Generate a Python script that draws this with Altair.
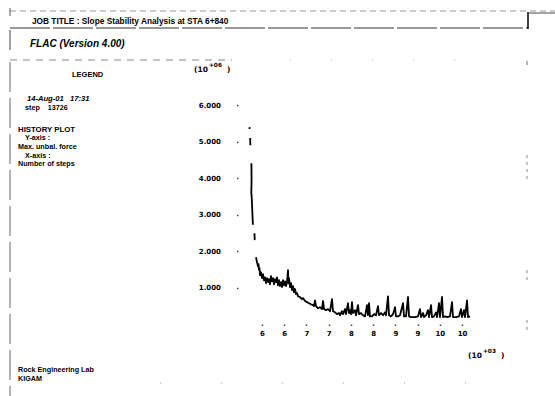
import altair as alt
import pandas as pd

# ---------------- data (x: steps in 10^3, y: max. unbalanced force in 10^6) ----------------
seg_a_x = [5.219, 5.220]
seg_a_y = [5.40, 5.35]
seg_b_x = [5.235, 5.237]
seg_b_y = [5.10, 4.90]
seg_c_x = [5.262, 5.265, 5.262, 5.258, 5.265, 5.275, 5.285, 5.295]
seg_c_y = [4.41, 4.00, 3.70, 3.60, 3.55, 3.30, 3.00, 2.72]
seg_d_x = [5.330, 5.336]
seg_d_y = [2.49, 2.30]
seg_e_x = [5.365, 5.388, 5.410, 5.421, 5.433, 5.444, 5.455, 5.478, 5.500, 5.523,
           5.545, 5.568, 5.590, 5.613, 5.635, 5.658, 5.680, 5.703, 5.725, 5.748,
           5.770, 5.793, 5.815, 5.838, 5.860, 5.883, 5.905, 5.928, 5.950, 5.973,
           5.995, 6.018, 6.040, 6.063, 6.085, 6.096, 6.108, 6.130, 6.153, 6.175,
           6.198, 6.220, 6.243, 6.265, 6.288, 6.310, 6.355, 6.400, 6.423, 6.468,
           6.513, 6.558, 6.603, 6.648, 6.670, 6.693, 6.715, 6.760, 6.805, 6.850,
           6.873, 6.895, 6.940, 6.985, 7.030, 7.075, 7.098, 7.143, 7.188, 7.233,
           7.255, 7.300, 7.323, 7.368, 7.390, 7.435, 7.458, 7.480, 7.503, 7.525,
           7.548, 7.593, 7.615, 7.660, 7.683, 7.728, 7.773, 7.818, 7.863, 7.885,
           7.908, 7.930, 7.975, 8.020, 8.065, 8.110, 8.133, 8.178, 8.223, 8.268,
           8.290, 8.335, 8.358, 8.403, 8.448, 8.493, 8.515, 8.560, 8.605, 8.673,
           8.695, 8.740, 8.785, 8.808, 8.853, 8.898, 8.943, 9.010, 9.055, 9.078,
           9.123, 9.145, 9.190, 9.235, 9.258, 9.303, 9.325, 9.370, 9.415, 9.438,
           9.483, 9.505, 9.550, 9.573, 9.618, 9.663, 9.730, 9.775, 9.798, 9.865,
           9.933, 9.978, 10.000, 10.045, 10.068, 10.113, 10.135, 10.180]
seg_e_y = [1.83, 1.69, 1.58, 1.64, 1.48, 1.53, 1.34, 1.42, 1.26, 1.37,
           1.20, 1.28, 1.12, 1.26, 1.15, 1.23, 1.09, 1.31, 1.17, 1.26,
           1.09, 1.23, 1.15, 1.28, 1.06, 1.20, 1.04, 1.15, 1.01, 1.20,
           1.06, 1.17, 1.04, 1.15, 1.48, 1.12, 1.26, 1.01, 1.12, 0.93,
           1.04, 0.87, 0.96, 0.82, 0.85, 0.76, 0.74, 0.68, 0.71, 0.63,
           0.60, 0.57, 0.54, 0.52, 0.49, 0.65, 0.49, 0.43, 0.46, 0.41,
           0.63, 0.41, 0.38, 0.41, 0.35, 0.68, 0.35, 0.32, 0.27, 0.30,
           0.24, 0.35, 0.27, 0.41, 0.27, 0.57, 0.30, 0.38, 0.27, 0.60,
           0.30, 0.38, 0.24, 0.52, 0.27, 0.30, 0.24, 0.21, 0.52, 0.24,
           0.57, 0.21, 0.21, 0.27, 0.24, 0.49, 0.24, 0.30, 0.24, 0.32,
           0.24, 0.76, 0.24, 0.21, 0.27, 0.46, 0.21, 0.21, 0.24, 0.57,
           0.21, 0.21, 0.74, 0.21, 0.19, 0.19, 0.19, 0.21, 0.41, 0.19,
           0.30, 0.19, 0.24, 0.38, 0.19, 0.52, 0.19, 0.21, 0.32, 0.19,
           0.57, 0.19, 0.74, 0.19, 0.21, 0.19, 0.21, 0.60, 0.19, 0.19,
           0.21, 0.41, 0.19, 0.38, 0.19, 0.65, 0.19, 0.21]

y_ticks = [1, 2, 3, 4, 5, 6]
x_ticks = [5.5, 6.0, 6.5, 7.0, 7.5, 8.0, 8.5, 9.0, 9.5, 10.0]

rows = []
for name, xs, ys in [("a", seg_a_x, seg_a_y), ("b", seg_b_x, seg_b_y),
                     ("c", seg_c_x, seg_c_y), ("d", seg_d_x, seg_d_y),
                     ("e", seg_e_x, seg_e_y)]:
    for x, y in zip(xs, ys):
        rows.append({"seg": name, "step": x, "force": y, "i": len(rows)})
df = pd.DataFrame(rows)

# ---------------- layout ----------------
W, H = 555, 396
L, T = 238, 83          # plot origin in page pixels
PW, PH = 251, 241       # plot size
FONT = "Liberation Sans"
AXFONT = "DejaVu Sans"
NB = "\u00a0"

one = alt.Data(values=[{}])


def txt(s, x, y, size=7, weight="bold", style="normal", align="left", font=FONT):
    return alt.Chart(one).mark_text(
        text=s, align=align, baseline="alphabetic", font=font, fontSize=size,
        fontWeight=weight, fontStyle=style, color="black"
    ).encode(x=alt.value(x - L), y=alt.value(y - T))


def hrule(x1, x2, y, color="#777", dash=None, width=1.0):
    kw = dict(color=color, strokeWidth=width)
    if dash:
        kw["strokeDash"] = dash
    return alt.Chart(one).mark_rule(**kw).encode(
        x=alt.value(x1 - L), x2=alt.value(x2 - L), y=alt.value(y - T))


def vrule(x, y1, y2, color="#777", dash=None, width=1.0):
    kw = dict(color=color, strokeWidth=width)
    if dash:
        kw["strokeDash"] = dash
    return alt.Chart(one).mark_rule(**kw).encode(
        x=alt.value(x - L), y=alt.value(y1 - T), y2=alt.value(y2 - T))


x_enc = alt.X("step:Q", scale=alt.Scale(domain=[4.96, 10.6075], nice=False, zero=False),
              axis=alt.Axis(values=x_ticks, format=".0f", title=None, domain=False, grid=False,
                            tickSize=1.5, tickWidth=1.5, tickColor="#444", labelPadding=4,
                            labelFont=AXFONT, labelFontWeight="bold", labelFontSize=7,
                            labelColor="black"))
y_enc = alt.Y("force:Q", scale=alt.Scale(domain=[0, 6.61], nice=False, zero=False),
              axis=alt.Axis(values=y_ticks, format=".3f", title=None, domain=False, grid=False,
                            tickSize=1.5, tickWidth=1.5, tickColor="#444", labelPadding=16,
                            labelFont=AXFONT, labelFontWeight="bold", labelFontSize=7,
                            labelColor="black"))

curve = alt.Chart(df).mark_line(color="black", strokeWidth=1.8, strokeJoin="round").encode(
    x=x_enc, y=y_enc, detail="seg:N", order="i:Q")

layers = [curve]

# frame (scanned page border pieces)
layers += [
    hrule(10, 555, 11, color="#999", dash=[6, 4], width=1),
    hrule(10, 528, 28, color="#333", dash=[40, 3], width=1.2),
    vrule(528, 12, 29, color="black", width=1.5),
    hrule(528, 555, 13, color="#444", width=1),
    vrule(10, 8, 16, color="#555", width=1),
    vrule(10, 30, 50, color="#444", width=1),
    vrule(10, 62, 396, color="#666", dash=[30, 6], width=1),
    hrule(10, 232, 60, color="#888", dash=[7, 6], width=1),
    hrule(290, 470, 60, color="#aaa", dash=[1, 40], width=1),
    vrule(527, 61, 65, color="#666"),
    vrule(527, 155, 182, color="#888", dash=[3, 4]),
    vrule(527, 270, 282, color="#888", dash=[3, 4]),
    vrule(527, 320, 332, color="#888", dash=[3, 4]),
    hrule(160, 520, 383, color="#999", dash=[1, 60], width=1),
]

# texts
layers += [
    txt("JOB TITLE : Slope Stability Analysis at STA 6+840", 32, 24, size=8.3),
    txt("FLAC (Version 4.00)", 30, 47, size=10, style="italic"),
    txt("LEGEND", 72, 77, size=7.5),
    txt("14-Aug-01" + NB * 3 + "17:31", 27, 101, size=7.6, style="italic"),
    txt("step" + NB * 4 + "13726", 25, 110, size=7.2),
    txt("HISTORY PLOT", 18, 132, size=7.8),
    txt("Y-axis :", 25, 140, size=7.2),
    txt("Max. unbal. force", 18, 149, size=7.2),
    txt("X-axis :", 25, 158, size=7.2),
    txt("Number of steps", 18, 166, size=7.2),
    txt("Rock Engineering Lab", 18, 372, size=7.2),
    txt("KIGAM", 18, 381, size=7.2),
    txt("(10", 194, 72, size=7.5, font=AXFONT),
    txt("+06", 209, 67, size=5.8, font=AXFONT),
    txt(")", 227, 72, size=7.5, font=AXFONT),
    txt("(10", 468, 358, size=7.5, font=AXFONT),
    txt("+03", 483, 353, size=5.8, font=AXFONT),
    txt(")", 501, 358, size=7.5, font=AXFONT),
]

chart = alt.layer(*layers).properties(
    width=PW, height=PH,
    padding={"left": L, "top": T, "right": W - L - PW, "bottom": H - T - PH},
    autosize=alt.AutoSizeParams(type="none"),
    background="white",
).configure_view(stroke=None)

chart.save("out.html", embed_options={"renderer": "svg", "actions": False})
